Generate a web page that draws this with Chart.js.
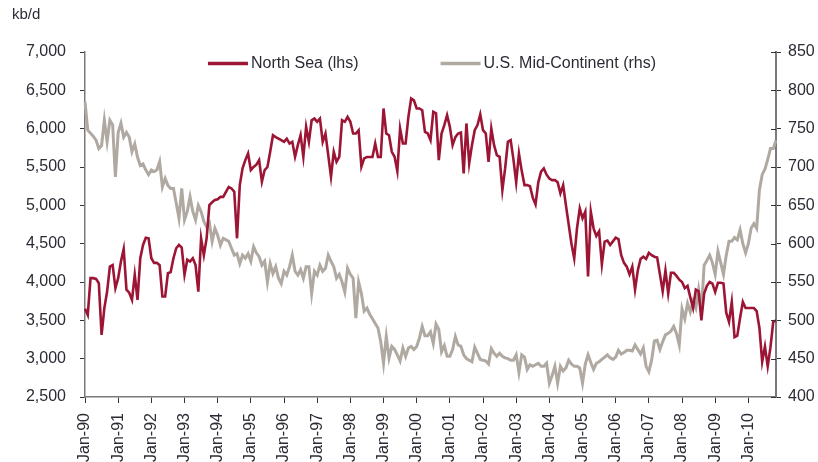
<!DOCTYPE html>
<html>
<head>
<meta charset="utf-8">
<title>North Sea vs U.S. Mid-Continent</title>
<script src="https://cdn.jsdelivr.net/npm/chart.js@4.4.1/dist/chart.umd.min.js"></script>
<style>
    html, body { margin: 0; padding: 0; background: #ffffff; }
    #chart { display: block; }
</style>
</head>
<body>
<canvas id="chart" width="818" height="462"></canvas>
<script>
// Tick labels shown on the x axis (one per January)
const yearTicks = ['Jan-90', 'Jan-91', 'Jan-92', 'Jan-93', 'Jan-94', 'Jan-95', 'Jan-96',
    'Jan-97', 'Jan-98', 'Jan-99', 'Jan-00', 'Jan-01', 'Jan-02', 'Jan-03', 'Jan-04',
    'Jan-05', 'Jan-06', 'Jan-07', 'Jan-08', 'Jan-09', 'Jan-10'];
const monthNames = ['Jan', 'Feb', 'Mar', 'Apr', 'May', 'Jun', 'Jul', 'Aug', 'Sep', 'Oct', 'Nov', 'Dec'];

// North Sea, kb/d (lhs) - one row per year, Jan-90 .. Nov-10
const northSea = [
    3650, 3570, 4050, 4050, 4040, 3985, 3310, 3660, 3875, 4200, 4220, 3920, // 1990
    4050, 4266, 4430, 3900, 3860, 3767, 4093, 3767, 4310, 4483, 4578, 4570, // 1991
    4310, 4250, 4250, 4220, 3810, 3810, 4115, 4130, 4310, 4440, 4483, 4450, // 1992
    4093, 4290, 4266, 4310, 4220, 3875, 4570, 4350, 4570, 5004, 5040, 5070, // 1993
    5080, 5110, 5110, 5177, 5240, 5220, 5177, 4570, 5265, 5482, 5590, 5677, // 1994
    5460, 5500, 5530, 5590, 5307, 5460, 5500, 5698, 5915, 5890, 5870, 5850, // 1995
    5828, 5870, 5806, 5828, 5633, 5785, 5915, 5633, 6024, 5828, 6110, 6132, // 1996
    6090, 6132, 5828, 5937, 5655, 5373, 5698, 5568, 5633, 6110, 6090, 6154, // 1997
    6090, 5937, 5937, 5980, 5503, 5612, 5630, 5630, 5630, 5807, 5630, 5630, // 1998
    6263, 5937, 5915, 5698, 5633, 5447, 6002, 5807, 5807, 6154, 6393, 6370, // 1999
    6263, 6263, 6240, 5958, 5937, 5850, 6220, 6200, 5590, 5937, 6046, 6176, // 2000
    6024, 5785, 5890, 5937, 5950, 5417, 6068, 5547, 5785, 5980, 6046, 6185, // 2001
    5980, 5937, 5568, 6002, 5785, 5655, 5633, 5200, 5482, 5828, 5850, 5600, // 2002
    5300, 5676, 5450, 5264, 5264, 5250, 5100, 5012, 5300, 5440, 5481, 5400, // 2003
    5350, 5329, 5329, 5300, 5156, 5264, 5000, 4750, 4500, 4309, 4700, 4960, // 2004
    4830, 4917, 4071, 4917, 4700, 4600, 4660, 4230, 4527, 4540, 4483, 4530, // 2005
    4578, 4560, 4350, 4250, 4200, 4100, 4200, 3900, 4150, 4300, 4330, 4300, // 2006
    4380, 4350, 4330, 4320, 4100, 3880, 4150, 3850, 4120, 4120, 4080, 4030, // 2007
    4000, 3920, 3950, 3800, 3660, 3900, 3880, 3500, 3850, 3950, 4000, 3980, // 2008
    3870, 3990, 3990, 3980, 3600, 3480, 3740, 3280, 3300, 3530, 3740, 3660, // 2009
    3660, 3660, 3660, 3620, 3400, 2960, 3160, 2900, 3150, 3480, 3500        // 2010
];

// U.S. Mid-Continent, kb/d (rhs)
const midContinent = [
    785, 748, 744, 740, 735, 724, 728, 761, 733, 761, 755, 687, // 1990
    745, 757, 739, 745, 739, 720, 730, 713, 702, 704, 696, 690, // 1991
    696, 694, 696, 707, 674, 685, 676, 672, 672, 653, 633, 672, // 1992
    631, 642, 661, 642, 631, 650, 642, 629, 622, 627, 603, 620, // 1993
    611, 598, 607, 605, 603, 594, 585, 587, 574, 585, 581, 587, // 1994
    577, 596, 588, 583, 572, 577, 550, 574, 561, 570, 555, 548, // 1995
    564, 559, 570, 585, 564, 559, 566, 555, 570, 570, 535, 564, // 1996
    559, 572, 564, 568, 585, 577, 570, 555, 560, 550, 537, 568, // 1997
    560, 555, 503, 550, 535, 512, 516, 508, 502, 496, 490, 472, // 1998
    444, 479, 451, 466, 462, 455, 447, 464, 453, 464, 466, 462, // 1999
    466, 477, 492, 480, 480, 485, 470, 495, 488, 459, 467, 453, // 2000
    453, 462, 479, 468, 466, 455, 450, 448, 446, 465, 457, 449, // 2001
    448, 447, 443, 463, 457, 453, 457, 453, 451, 450, 448, 448, // 2002
    455, 432, 455, 452, 436, 442, 440, 442, 444, 440, 440, 444, // 2003
    418, 428, 440, 418, 440, 434, 438, 448, 443, 440, 440, 438, // 2004
    418, 443, 455, 445, 436, 444, 446, 449, 452, 455, 451, 449, // 2005
    452, 461, 456, 458, 461, 461, 460, 468, 462, 456, 464, 440, // 2006
    433, 448, 473, 474, 462, 472, 481, 483, 486, 492, 483, 468, // 2007
    515, 502, 522, 511, 525, 516, 540, 512, 572, 578, 585, 575, // 2008
    560, 590, 575, 560, 585, 603, 603, 608, 605, 618, 600, 588, // 2009
    600, 620, 626, 620, 670, 690, 697, 710, 724, 724, 735       // 2010
];

// Month categories built from the year tick labels, e.g. 'Mar-95'
const months = [];
yearTicks.forEach(function(tick) {
    const yy = tick.split('-')[1];
    monthNames.forEach(function(m) {
        if (months.length < northSea.length) months.push(m + '-' + yy);
    });
});

const RED = '#9c1535';
const GREY = '#b0a9a2';
const AXIS = '#7a7a7a';
const TEXT = '#2b2b35';
const FONT = "'Liberation Sans', Arial, sans-serif";

// Legend drawn inside the plot area, centred over it
const insideLegend = {
    id: 'insideLegend',
    afterDraw(chart) {
        const c = chart.ctx;
        const area = chart.chartArea;
        const lineLen = 40, textGap = 3, itemGap = 82;
        c.save();
        c.font = '16px ' + FONT;
        c.textBaseline = 'middle';
        c.textAlign = 'left';
        const items = chart.data.datasets.map(ds => ({
            text: ds.label, color: ds.borderColor, width: ds.borderWidth,
            w: lineLen + textGap + c.measureText(ds.label).width
        }));
        const total = items.reduce((s, it) => s + it.w, 0) + itemGap * (items.length - 1);
        let x = (area.left + area.right) / 2 + 1.5 - total / 2;
        const y = area.top + 11.5;
        items.forEach(it => {
            c.strokeStyle = it.color;
            c.lineWidth = 3.5;
            c.beginPath();
            c.moveTo(x, y);
            c.lineTo(x + lineLen, y);
            c.stroke();
            c.fillStyle = TEXT;
            c.fillText(it.text, x + lineLen + textGap, y);
            x += it.w + itemGap;
        });

        // right axis ticks cross the axis line
        const y1 = chart.scales.y1;
        c.strokeStyle = '#333';
        c.lineWidth = 1;
        y1.ticks.forEach(t => {
            const py = Math.round(y1.getPixelForValue(t.value)) + 0.5;
            c.beginPath();
            c.moveTo(area.right - 5, py);
            c.lineTo(area.right, py);
            c.stroke();
        });
        c.restore();
    }
};

new Chart(document.getElementById('chart'), {
    type: 'line',
    data: {
        labels: months,
        datasets: [
            {
                label: 'North Sea (lhs)',
                data: northSea,
                yAxisID: 'y',
                borderColor: RED,
                backgroundColor: RED,
                borderWidth: 2.6,
                pointRadius: 0,
                tension: 0
            },
            {
                label: 'U.S. Mid-Continent (rhs)',
                data: midContinent,
                yAxisID: 'y1',
                borderColor: GREY,
                backgroundColor: GREY,
                borderWidth: 3,
                pointRadius: 0,
                tension: 0
            }
        ]
    },
    options: {
        responsive: false,
        animation: false,
        layout: { padding: { left: 12, right: 0, top: 0, bottom: 0 } },
        plugins: {
            legend: { display: false },
            tooltip: { enabled: false },
            title: {
                display: true,
                text: 'kb/d',
                align: 'start',
                color: TEXT,
                font: { family: FONT, size: 15, weight: 'normal', lineHeight: 1.2 },
                padding: { top: 6, bottom: 28 }
            }
        },
        scales: {
            x: {
                type: 'category',
                offset: false,
                grid: {
                    drawOnChartArea: false,
                    tickLength: 6,
                    tickWidth: 1,
                    tickColor: ctx => (months[ctx.index] || '').startsWith('Jan') ? '#333' : 'rgba(0,0,0,0)'
                },
                border: { color: AXIS, width: 1.5 },
                ticks: {
                    autoSkip: false,
                    minRotation: 90,
                    maxRotation: 90,
                    padding: 10,
                    color: TEXT,
                    font: { family: FONT, size: 16 },
                    callback: function(value, index) {
                        const lbl = months[index];
                        return yearTicks.includes(lbl) ? lbl : '';
                    }
                },
                afterFit: function(scale) { scale.height = 65; }
            },
            y: {
                position: 'left',
                min: 2500,
                max: 7000,
                grid: { drawOnChartArea: false, tickLength: 5, tickColor: '#333' },
                border: { color: AXIS, width: 1.5 },
                ticks: {
                    stepSize: 500,
                    padding: 14,
                    color: TEXT,
                    font: { family: FONT, size: 16 },
                    callback: function(value) { return value.toLocaleString('en-US'); }
                },
                afterFit: function(scale) { scale.width = 73; }
            },
            y1: {
                position: 'right',
                min: 400,
                max: 850,
                grid: { drawOnChartArea: false, tickLength: 5, tickColor: '#333' },
                border: { color: AXIS, width: 2 },
                ticks: {
                    stepSize: 50,
                    padding: 7,
                    color: TEXT,
                    font: { family: FONT, size: 16 }
                },
                afterFit: function(scale) { scale.width = 42; }
            }
        }
    },
    plugins: [insideLegend]
});
</script>
</body>
</html>
